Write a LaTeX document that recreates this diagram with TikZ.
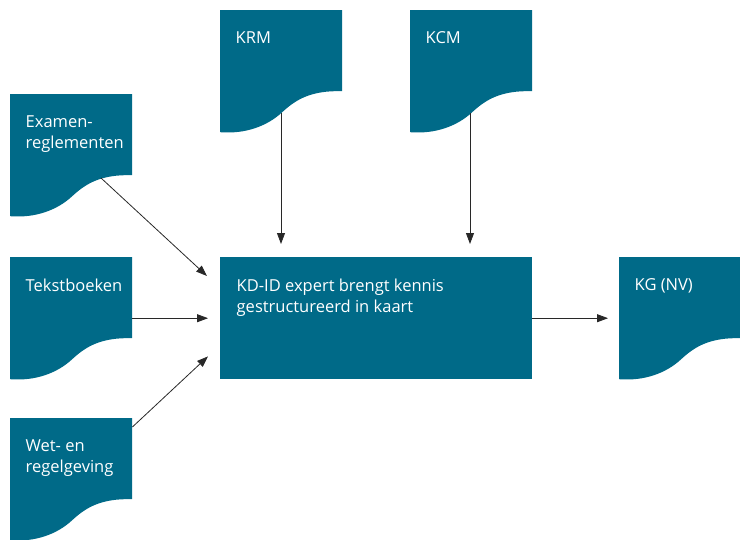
\documentclass[tikz,border=0pt]{standalone}
\usepackage{fontspec}
\setmainfont{Open Sans}
\usetikzlibrary{arrows.meta,calc}
\definecolor{docblue}{RGB}{0,106,136}
\definecolor{arrgray}{RGB}{40,40,40}
\tikzset{
  doctext/.style={text=white, align=left, inner sep=0pt, font=\fontsize{16.5}{21.5}\selectfont},
  docbox/.style={rectangle, draw=none, inner sep=0pt, minimum width=122pt, minimum height=122pt, anchor=north west,
    label={[doctext, anchor=north west, xshift=15.5pt, yshift=-21.5pt]north west:#1},
    path picture={
      \path (path picture bounding box.north west) coordinate (p);
      \fill[docblue] (p) -- ($(p)+(130,0)$) -- ($(p)+(130,81)$) -- ($(p)+(122,81)$)
        .. controls ($(p)+(90,80)$) and ($(p)+(75,90)$) .. ($(p)+(62,102)$)
        .. controls ($(p)+(47,116)$) and ($(p)+(25,124)$) .. ($(p)+(0,122)$) -- cycle;
    }},
  mainbox/.style={rectangle, fill=docblue, draw=none, inner sep=0pt, minimum width=312pt, minimum height=122pt, anchor=north west,
    label={[doctext, anchor=north west, xshift=16.5pt, yshift=-21.5pt]north west:#1}},
  arr/.style={-{Triangle[length=11pt,width=8pt]}, draw=arrgray, line width=0.8pt}
}
\begin{document}
\begin{tikzpicture}[x=1pt,y=-1pt]
\useasboundingbox (0,0) rectangle (740,539);
\node[docbox={Examen-\\reglementen}] (exam) at (10,94) {};
\node[docbox={KRM}] (krm) at (220,10) {};
\node[docbox={KCM}] (kcm) at (410,10) {};
\node[docbox={Tekstboeken}] (tek) at (10,257) {};
\node[docbox={Wet- en\\regelgeving}] (wet) at (10,418) {};
\node[docbox={KG (NV)}] (kg) at (619,257) {};
\node[mainbox={KD-ID expert brengt kennis\\gestructureerd in kaart}] (main) at (220,257) {};

\draw[arr] ($(exam.north west)+(91,84)$) -- ($(main.north west)+(-13,19)$);
\draw[arr] (tek.east) -- ($(main.west |- tek.east)+(-12,0)$);
\draw[arr] ($(wet.north east)+(0,9)$) -- ($(main.south west)+(-12,-23)$);
\draw[arr] ($(krm.north west)+(61,103)$) -- ($(main.north west)+(61,-13)$);
\draw[arr] ($(kcm.north west)+(60,103)$) -- ($(main.north west)+(250,-13)$);
\draw[arr] (main.east) -- ($(kg.west |- main.east)+(-11,0)$);
\end{tikzpicture}
\end{document}
